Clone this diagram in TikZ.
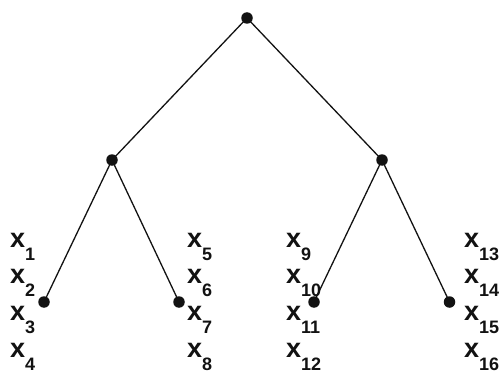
\documentclass[tikz,border=0pt]{standalone}
\usepackage{fontspec}
\setmainfont{Liberation Sans}
\newcommand\xlab[1]{{\fontsize{27}{27}\selectfont x}\raisebox{-13.5pt}{\fontsize{18}{18}\selectfont #1}}
\begin{document}
\begin{tikzpicture}[x=1pt,y=1pt,
  dot/.style={circle,fill=black!93,inner sep=0pt,minimum size=11.5pt},
  edge/.style={line width=1.3pt,black!93},
  lab/.style={anchor=base west,inner sep=0pt,font=\bfseries,text=black!93}]
\useasboundingbox (0,0) rectangle (501,373);
% labels
\foreach \col/\xx/\s in {0/10/1,1/187/5,2/286/9,3/464/13}{
  \foreach \row/\yy in {0/126,1/90,2/53,3/16}{
    \pgfmathtruncatemacro{\n}{\s+\row}
    \node[lab] (x\n) at (\xx,\yy) {\xlab{\n}};
  }
}
% tree nodes
\node[dot] (r) at (247,355) {};
\node[dot] (a) at (112,213) {};
\node[dot] (b) at (382,213) {};
\node[dot] (a1) at (44,71) {};
\node[dot] (a2) at (179,71) {};
\node[dot] (b1) at (314,71) {};
\node[dot] (b2) at (449.5,71) {};
\draw[edge] (r.center) -- (a.center);
\draw[edge] (r.center) -- (b.center);
\draw[edge] (a.center) -- (a1.center);
\draw[edge] (a.center) -- (a2.center);
\draw[edge] (b.center) -- (b1.center);
\draw[edge] (b.center) -- (b2.center);
\end{tikzpicture}
\end{document}
